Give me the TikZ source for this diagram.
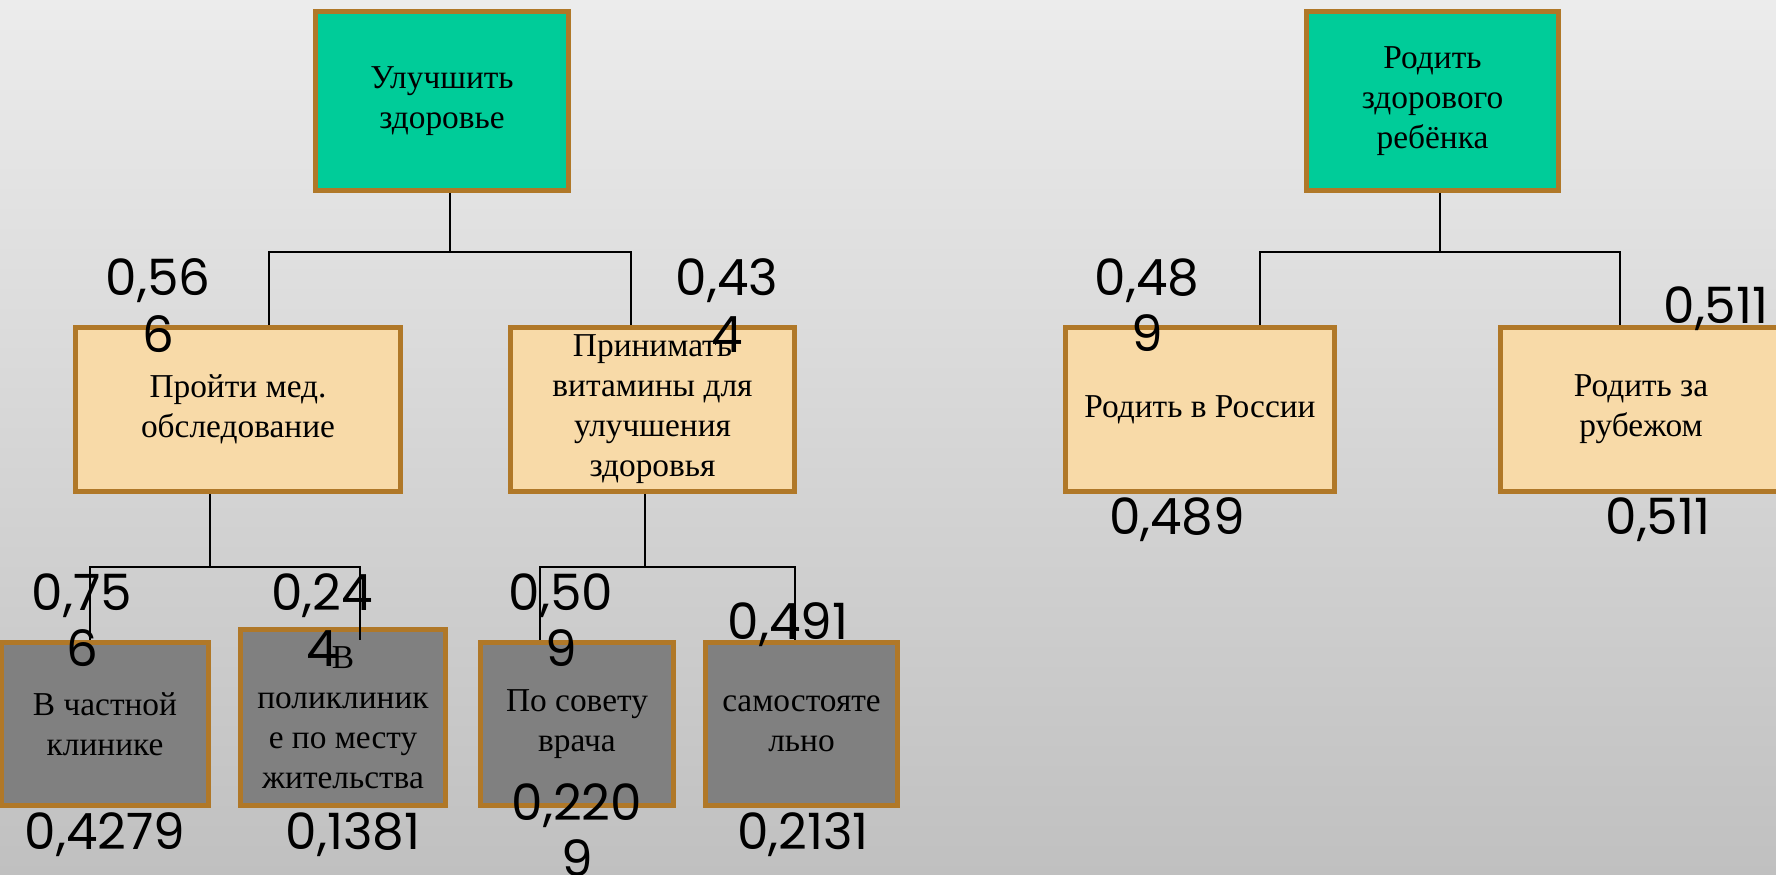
\documentclass[tikz,border=0pt]{standalone}
\usepackage{fontspec}
\setmainfont{Liberation Serif}
\newfontfamily\numfont{Poppins}
\usepackage{tikz}
\usepackage{color}
\definecolor{goalgreen}{RGB}{0,204,153}
\definecolor{boxbrown}{RGB}{176,120,40}
\definecolor{wheatfill}{RGB}{248,218,168}
\definecolor{leafgray}{RGB}{128,128,128}
\definecolor{bgtop}{RGB}{236,236,236}
\definecolor{bgbottom}{RGB}{192,192,192}

\begin{document}
\begin{tikzpicture}[x=0.02cm,y=-0.02cm]
    \tikzstyle{box node}=[draw=boxbrown,line width=0.1cm,align=center,inner sep=0,font=\fontsize{19}{22.8}\selectfont]
    \tikzstyle{goal node}=[box node,fill=goalgreen,minimum width=5.06cm,minimum height=3.58cm]
    \tikzstyle{way node}=[box node,fill=wheatfill,minimum height=3.28cm]
    \tikzstyle{leaf node}=[box node,fill=leafgray,minimum height=3.26cm]
    \tikzstyle{weight node}=[anchor=north,inner sep=0,align=center,font=\numfont\fontsize{28.5}{32.3}\selectfont]
    \tikzstyle{link}=[line width=0.04cm]
    \useasboundingbox (0,0) rectangle (1776,875);
    \shade[top color=bgtop,bottom color=bgbottom] (0,0) rectangle (1776,875);

    \node(0)[goal node] at (442,101) {Улучшить\\здоровье};
    \node(5)[goal node] at (1432.5,101) {Родить\\здорового\\ребёнка};
    \node(1)[way node,minimum width=6.5cm] at (238,409.5) {Пройти мед.\\обследование};
    \node(2)[way node,minimum width=5.68cm] at (652.5,409.5) {Принимать\\витамины для\\улучшения\\здоровья};
    \node(6)[way node,minimum width=5.38cm] at (1200,409.5) {Родить в России};
    \node(7)[way node,minimum width=5.62cm] at (1641,409.5) {Родить за\\рубежом};
    \node(11)[leaf node,minimum width=4.14cm] at (105,724) {В частной\\клинике};
    \node(12)[leaf node,minimum width=4.1cm,minimum height=3.52cm] at (343,717.5) {В\\поликлиник\\е по месту\\жительства};
    \node(21)[leaf node,minimum width=3.86cm] at (577,724) {По совету\\врача};
    \node(22)[leaf node,minimum width=3.84cm] at (801.5,724) {самостояте\\льно};

    \coordinate (a0) at (450,252);
    \coordinate (a1) at (269,252);
    \coordinate (a2) at (631,252);
    \draw[link] (a0 |- 0.south) -- (a0);
    \draw[link] (a1 |- 1.north) -- (a1) -- (a2) -- (a2 |- 2.north);
    \coordinate (b0) at (210,567);
    \coordinate (b1) at (90,567);
    \coordinate (b2) at (360,567);
    \draw[link] (b0 |- 1.south) -- (b0);
    \draw[link] (b1 |- 11.north) -- (b1) -- (b2) -- (b2 |- 11.north);
    \coordinate (c0) at (645,567);
    \coordinate (c1) at (540,567);
    \coordinate (c2) at (795,567);
    \draw[link] (c0 |- 2.south) -- (c0);
    \draw[link] (c1 |- 21.north) -- (c1) -- (c2) -- (c2 |- 22.north);
    \coordinate (d0) at (1440,252);
    \coordinate (d1) at (1260,252);
    \coordinate (d2) at (1620,252);
    \draw[link] (d0 |- 5.south) -- (d0);
    \draw[link] (d1 |- 6.north) -- (d1) -- (d2) -- (d2 |- 7.north);

    \node(w1)[weight node] at (158,258) {0,56\\6};
    \node(w2)[weight node] at (727,258) {0,43\\4};
    \node(w3)[weight node] at (82,573) {0,75\\6};
    \node(w4)[weight node] at (322,573) {0,24\\4};
    \node(w5)[weight node] at (561,573) {0,50\\9};
    \node(w6)[weight node] at (788,602) {0,491};
    \node(w7)[weight node] at (105,812) {0,4279};
    \node(w8)[weight node] at (353,812) {0,1381};
    \node(w9)[weight node] at (577,783) {0,220\\9};
    \node(w10)[weight node] at (803,812) {0,2131};
    \node(w11)[weight node] at (1147,258) {0,48\\9};
    \node(w12)[weight node] at (1716,286) {0,511};
    \node(w13)[weight node] at (1177,497) {0,489};
    \node(w14)[weight node] at (1658,497) {0,511};
  \end{tikzpicture}
\end{document}
